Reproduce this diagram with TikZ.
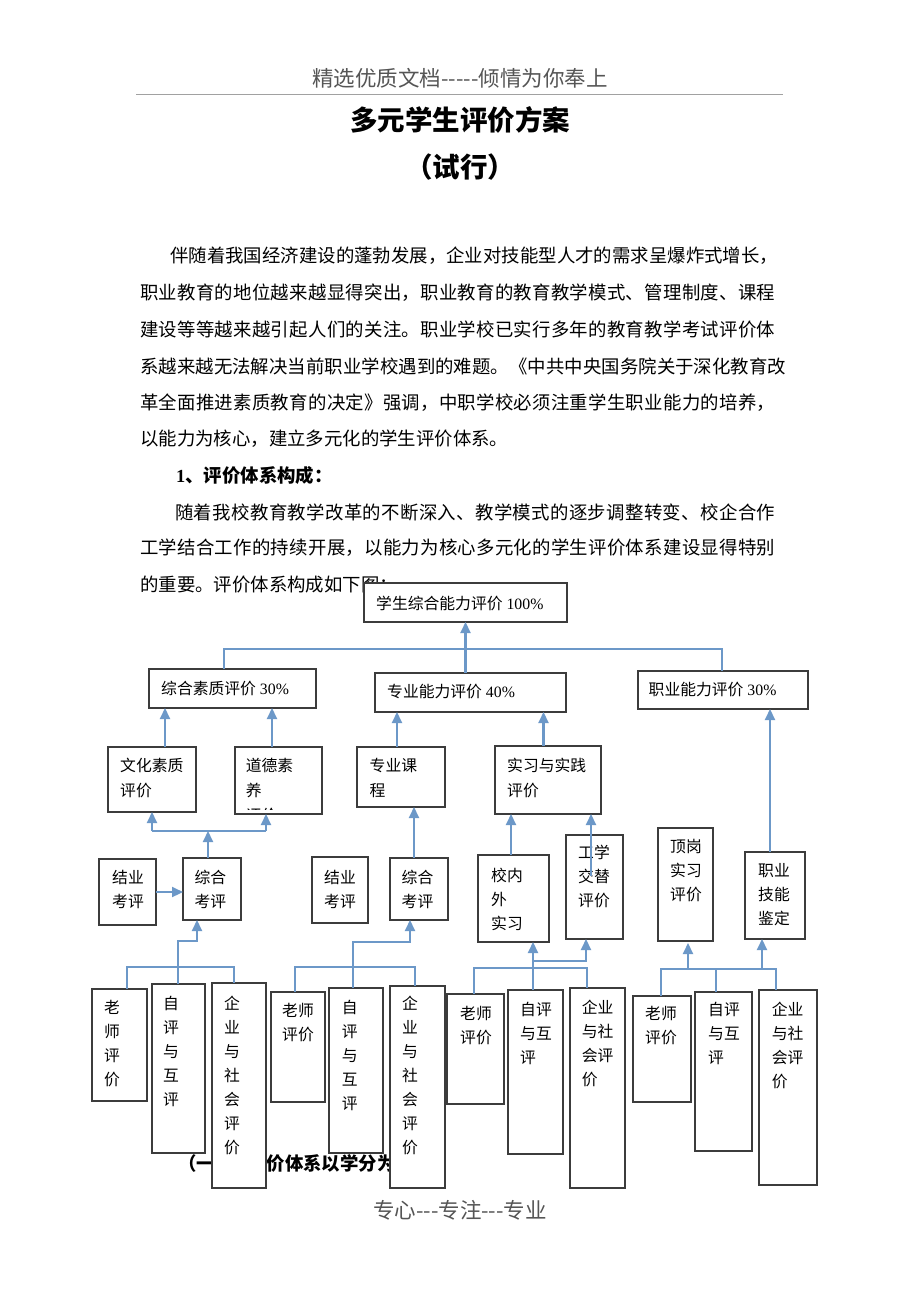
\documentclass[tikz,border=0pt]{standalone}
\usepackage{fontspec}
\setmainfont{Liberation Serif}
\newfontfamily\cjk{Noto Sans CJK SC}
\usetikzlibrary{arrows.meta,calc}
\definecolor{conn}{RGB}{108,152,200}
\definecolor{bord}{RGB}{60,60,60}
\definecolor{hdr}{RGB}{85,85,85}
\def\jstgob#1{}
\def\jsta#1{#1\futurelet\jstnext\jstb}
\def\jstb{\ifx\jstnext\relax\expandafter\jstgob\else\hskip 0pt plus 1fil\relax\expandafter\jsta\fi}
\newcommand\jst[2]{\makebox[#1][s]{\jsta#2\relax}}
\newcommand\bxn[5]{\node[bx, minimum width=#4pt, minimum height=#5pt] (#1) at ({#2+#4/2},{#3+#5/2}) {};}
\tikzset{
 bx/.style={draw=bord, line width=1.5pt, fill=white, inner sep=0pt, outer sep=0pt, rectangle},
 tx/.style={inner sep=0pt, align=left, font=\fontsize{15.8}{24}\selectfont\cjk, anchor=north west},
 txc/.style={tx, font=\fontsize{15.8}{25}\selectfont\cjk},
 tl/.style={inner sep=0pt, anchor=west, font=\fontsize{15.8}{15.8}\selectfont},
 ln/.style={draw=conn, line width=2.2pt},
 arr/.style={ln, -{Triangle[width=10pt,length=11pt]}},
 para/.style={inner sep=0pt, anchor=west, font=\fontsize{18.4}{18.4}\selectfont\cjk},
}
\begin{document}
\begin{tikzpicture}[x=1pt,y=-1pt]
\useasboundingbox (0,0) rectangle (920,1302);
\fill[white] (0,0) rectangle (920,1302);
% header
\node[inner sep=0pt, font=\fontsize{21.5}{21.5}\selectfont\cjk, text=hdr] (hd) at (460,78) {精选优质文档-----倾情为你奉上};
\draw[hdr!55, line width=1pt] (136,94) -- (783,94);
\node[inner sep=0pt, font=\fontsize{27.5}{27.5}\selectfont\cjk\bfseries] (title) at (460,120) {多元学生评价方案};
\node[inner sep=0pt, font=\fontsize{27.5}{27.5}\selectfont\cjk\bfseries] (sub) at (460,167) {（试行）};
% paragraphs
\node[para] (l1) at (170,256) {\jst{608pt}{伴随着我国经济建设的蓬勃发展，企业对技能型人才的需求呈爆炸式增长，}};
\node[para] (l2) at (140,293) {\jst{635pt}{职业教育的地位越来越显得突出，职业教育的教育教学模式、管理制度、课程}};
\node[para] (l3) at (140,329.5) {\jst{635pt}{建设等等越来越引起人们的关注。职业学校已实行多年的教育教学考试评价体}};
\node[para] (l4) at (140,366) {\jst{646pt}{系越来越无法解决当前职业学校遇到的难题。《中共中央国务院关于深化教育改}};
\node[para] (l5) at (140,402.5) {\jst{635pt}{革全面推进素质教育的决定》强调，中职学校必须注重学生职业能力的培养，}};
\node[para] (l6) at (140,439) {以能力为核心，建立多元化的学生评价体系。};
\node[para, font=\fontsize{18.4}{18.4}\selectfont\cjk\bfseries] (h1) at (176,475) {{\rmfamily\bfseries 1}、评价体系构成：};
\node[para] (l8) at (175,512) {\jst{600pt}{随着我校教育教学改革的不断深入、教学模式的逐步调整转变、校企合作}};
\node[para] (l9) at (140,548) {\jst{635pt}{工学结合工作的持续开展，以能力为核心多元化的学生评价体系建设显得特别}};
\node[para] (l10) at (140,585) {的重要。评价体系构成如下图：};
\node[para, font=\fontsize{18.4}{18.4}\selectfont\cjk\bfseries] (sec1) at (178,1163.5) {（一）评\kern15pt 价体系以学分为};
% footer
\node[inner sep=0pt, font=\fontsize{21.5}{21.5}\selectfont\cjk, text=hdr] (ft) at (460,1210) {专心---专注---专业};
% boxes
\bxn{top}{364}{583}{203}{39}
\bxn{b1}{149}{669}{167}{39}
\bxn{b2}{375}{673}{191}{39}
\bxn{b3}{638}{671}{170}{38}
\bxn{c1}{108}{747}{88}{65}
\bxn{c2}{235}{747}{87}{67}
\bxn{c3}{357}{747}{88}{60}
\bxn{c4}{495}{746}{106}{68}
\bxn{d1}{99}{859}{57}{66}
\bxn{d2}{183}{858}{58}{62}
\bxn{d3}{312}{857}{56}{66}
\bxn{d4}{390}{858}{58}{62}
\bxn{d5}{478}{855}{71}{87}
\bxn{d6}{566}{835}{57}{104}
\bxn{d7}{658}{828}{55}{113}
\bxn{d8}{745}{852}{60}{87}
\bxn{e1}{92}{989}{55}{112}
\bxn{e2}{152}{984}{53}{169}
\bxn{e3}{212}{983}{54}{205}
\bxn{e4}{271}{992}{54}{110}
\bxn{e5}{329}{988}{54}{165}
\bxn{e6}{390}{986}{55}{202}
\bxn{e7}{447}{994}{57}{110}
\bxn{e8}{508}{990}{55}{164}
\bxn{e9}{570}{988}{55}{200}
\bxn{e10}{633}{996}{58}{106}
\bxn{e11}{695}{992}{57}{159}
\bxn{e12}{759}{990}{58}{195}
% box texts
\node[tl] (ttop) at (376,603) {{\cjk 学生综合能力评价} 100\%};
\node[tl] (tb1) at (161,688.5) {{\cjk 综合素质评价} 30\%};
\node[tl] (tb2) at (387,692) {{\cjk 专业能力评价} 40\%};
\node[tl] (tb3) at (648.5,690) {{\cjk 职业能力评价} 30\%};
\node[txc] (tc1) at (120,758) {文化素质\\评价};
\begin{scope}
\clip ([shift={(1pt,-1pt)}]c2.north west) rectangle ([shift={(-1pt,4.5pt)}]c2.south east);
\node[txc] (tc2) at (245.6,758) {道德素\\养\\评价};
\end{scope}
\node[txc] (tc3) at (369.5,758) {专业课\\程};
\node[txc] (tc4) at (507,758) {实习与实践\\评价};
\node[tx] (td1) at (112,870) {结业\\考评};
\node[tx] (td2) at (194.4,870) {综合\\考评};
\node[tx] (td3) at (324,869.5) {结业\\考评};
\node[tx] (td4) at (401.5,870) {综合\\考评};
\node[tx] (td5) at (491,868) {校内\\外\\实习};
\node[tx] (td6) at (578,845) {工学\\交替\\评价};
\node[tx] (td7) at (670,839) {顶岗\\实习\\评价};
\node[tx] (td8) at (758,863) {职业\\技能\\鉴定};
\node[tx] (te1) at (104,1000) {老\\师\\评\\价};
\node[tx] (te2) at (163,996) {自\\评\\与\\互\\评};
\node[tx] (te3) at (224,996) {企\\业\\与\\社\\会\\评\\价};
\node[tx] (te4) at (282,1003) {老师\\评价};
\node[tx] (te5) at (341.7,1000) {自\\评\\与\\互\\评};
\node[tx] (te6) at (402,996) {企\\业\\与\\社\\会\\评\\价};
\node[tx] (te7) at (460,1006) {老师\\评价};
\node[tx] (te8) at (520,1002) {自评\\与互\\评};
\node[tx] (te9) at (581.7,1000) {企业\\与社\\会评\\价};
\node[tx] (te10) at (645,1006) {老师\\评价};
\node[tx] (te11) at (708,1002) {自评\\与互\\评};
\node[tx] (te12) at (771.7,1002) {企业\\与社\\会评\\价};
% connectors: top level
\draw[arr] (top.south |- b2.north) -- (top.south);
\path (top.south) ++(0,27) coordinate (j0);
\draw[ln] ([xshift=75pt]b1.north west) |- (j0) -| ([xshift=84pt]b3.north west);
% level 3 to 2
\path ([xshift=57pt]c1.north west) coordinate (p1);
\draw[arr] (p1) -- (p1 |- b1.south);
\path ([xshift=37pt]c2.north west) coordinate (p2);
\draw[arr] (p2) -- (p2 |- b1.south);
\path ([xshift=40pt]c3.north west) coordinate (p3);
\draw[arr] (p3) -- (p3 |- b2.south);
\path ([xshift=48.5pt]c4.north west) coordinate (p4);
\draw[arr] (p4) -- (p4 |- b2.south);
\path ([xshift=25pt]d8.north west) coordinate (p5);
\draw[arr] (p5) -- (p5 |- b3.south);
% level 4 to 3, left
\path ([xshift=25pt]d2.north west) coordinate (q0);
\path (q0) ++(0,-27) coordinate (q1);
\draw[arr] (q0) -- (q1);
\path ([xshift=44pt]c1.south west) coordinate (q2);
\path ([xshift=31pt]c2.south west) coordinate (q3);
\draw[ln] (q2 |- q1) -- (q3 |- q1);
\draw[arr] (q2 |- q1) -- (q2);
\draw[arr] (q3 |- q1) -- (q3);
\draw[arr] (d1.east) -- (d1.east -| d2.west);
\path ([xshift=24pt]d4.north west) coordinate (q4);
\draw[arr] (q4) -- (q4 |- c3.south);
\path ([xshift=33pt]d5.north west) coordinate (q5);
\draw[arr] (q5) -- (q5 |- c4.south);
\path ([xshift=25pt,yshift=-41pt]d6.north west) coordinate (q6);
\draw[arr] (q6) -- (q6 |- c4.south);
% bottom group 1
\path ([xshift=26pt]e2.north west) coordinate (r1);
\path ([xshift=14pt]d2.south west) coordinate (r2);
\draw[arr] (r1) -- ++(0,-43) -| (r2);
\path (r1) ++(0,-17) coordinate (g1);
\draw[ln] ([xshift=35pt]e1.north west) |- (g1) -| ([xshift=22pt]e3.north west);
% bottom group 2
\path ([xshift=24pt]e5.north west) coordinate (r3);
\path ([xshift=20pt]d4.south west) coordinate (r4);
\draw[arr] (r3) -- ++(0,-46) -| (r4);
\path (r3) ++(0,-21) coordinate (g2);
\draw[ln] ([xshift=24pt]e4.north west) |- (g2) -| ([xshift=25pt]e6.north west);
% bottom group 3
\path ([xshift=25pt]e8.north west) coordinate (r5);
\draw[arr] (r5) -- (r5 |- d5.south);
\path (r5) ++(0,-22) coordinate (g3);
\draw[ln] ([xshift=27pt]e7.north west) |- (g3) -| ([xshift=17pt]e9.north west);
\path (r5) ++(0,-29) coordinate (g4);
\path ([xshift=20pt]d6.south west) coordinate (r6);
\draw[arr] (g4) -| (r6);
% bottom group 4
\path ([xshift=21pt]e11.north west) coordinate (r7);
\path (r7) ++(0,-23) coordinate (g5);
\draw[ln] ([xshift=28pt]e10.north west) |- (g5) -| ([xshift=17pt]e12.north west);
\draw[ln] (r7) -- (g5);
\path ([xshift=30pt]d7.south west) coordinate (r8);
\draw[arr] (r8 |- g5) -- ([yshift=-2pt]r8);
\path ([xshift=17pt]d8.south west) coordinate (r9);
\draw[arr] (r9 |- g5) -- (r9);
\end{tikzpicture}
\end{document}
